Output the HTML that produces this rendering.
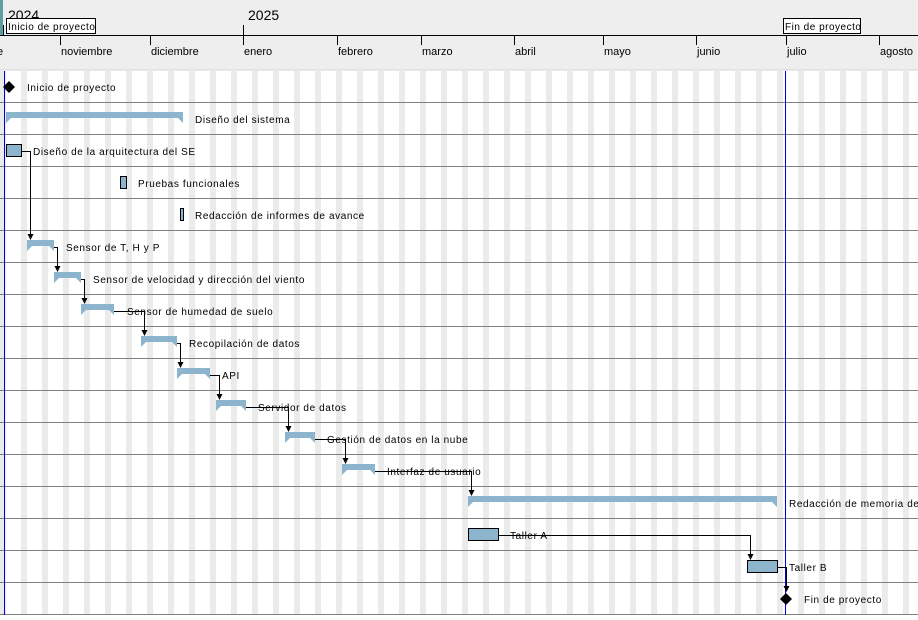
<!DOCTYPE html>
<html><head><meta charset="utf-8"><style>
html,body{margin:0;padding:0;background:#fff;}
svg text{font-family:"Liberation Sans",sans-serif;}
</style></head><body>
<svg width="918" height="615" xmlns="http://www.w3.org/2000/svg">
<defs>
<pattern id="st" x="0" y="0" width="21" height="10" patternUnits="userSpaceOnUse">
<rect x="0" y="0" width="6" height="10" fill="#ebebeb"/>
</pattern>
</defs>
<rect x="0" y="0" width="918" height="70" fill="#eeeeee"/>
<line x1="0" y1="70" x2="918" y2="70" stroke="#d4d4d4"/>
<rect x="0" y="71" width="918" height="544" fill="url(#st)"/>
<rect x="0" y="0" width="3" height="35" fill="#5f9ea0"/>
<g fill="#000" font-size="14">
<text x="8" y="20">2024</text><text x="248" y="20">2025</text>
</g>
<line x1="0" y1="35.5" x2="918" y2="35.5" stroke="#000"/>
<g stroke="#000">
<line x1="60.5" y1="35" x2="60.5" y2="45"/><line x1="150.5" y1="35" x2="150.5" y2="45"/>
<line x1="243.5" y1="25" x2="243.5" y2="45"/><line x1="337.5" y1="35" x2="337.5" y2="45"/>
<line x1="421.5" y1="35" x2="421.5" y2="45"/><line x1="514.5" y1="35" x2="514.5" y2="45"/>
<line x1="603.5" y1="35" x2="603.5" y2="45"/><line x1="696.5" y1="35" x2="696.5" y2="45"/>
<line x1="786.5" y1="35" x2="786.5" y2="45"/><line x1="879.5" y1="35" x2="879.5" y2="45"/>
<line x1="3.5" y1="25" x2="3.5" y2="35"/>
</g>
<g font-size="11" fill="#000">
<text x="-3" y="55">e</text><text x="61" y="55">noviembre</text><text x="151" y="55">diciembre</text>
<text x="244" y="55">enero</text><text x="338" y="55">febrero</text><text x="422" y="55">marzo</text>
<text x="515" y="55">abril</text><text x="604" y="55">mayo</text><text x="697" y="55">junio</text>
<text x="787" y="55">julio</text><text x="880" y="55">agosto</text>
</g>
<rect x="6.5" y="18.5" width="89" height="15" fill="#fff" stroke="#000"/>
<text x="8" y="30" font-size="10" letter-spacing="0.5">Inicio de proyecto</text>
<rect x="783.5" y="18.5" width="77" height="15" fill="#fff" stroke="#000"/>
<text x="785" y="30" font-size="10" letter-spacing="0.5">Fin de proyecto</text>
<g stroke="#808080">
<line x1="0" y1="102.5" x2="918" y2="102.5"/><line x1="0" y1="134.5" x2="918" y2="134.5"/>
<line x1="0" y1="166.5" x2="918" y2="166.5"/><line x1="0" y1="198.5" x2="918" y2="198.5"/>
<line x1="0" y1="230.5" x2="918" y2="230.5"/><line x1="0" y1="262.5" x2="918" y2="262.5"/>
<line x1="0" y1="294.5" x2="918" y2="294.5"/><line x1="0" y1="326.5" x2="918" y2="326.5"/>
<line x1="0" y1="358.5" x2="918" y2="358.5"/><line x1="0" y1="390.5" x2="918" y2="390.5"/>
<line x1="0" y1="422.5" x2="918" y2="422.5"/><line x1="0" y1="454.5" x2="918" y2="454.5"/>
<line x1="0" y1="486.5" x2="918" y2="486.5"/><line x1="0" y1="518.5" x2="918" y2="518.5"/>
<line x1="0" y1="550.5" x2="918" y2="550.5"/><line x1="0" y1="582.5" x2="918" y2="582.5"/>
<line x1="0" y1="614.5" x2="918" y2="614.5"/>
</g>
<line x1="4.5" y1="71" x2="4.5" y2="615" stroke="#0000dd"/>
<line x1="785.5" y1="71" x2="785.5" y2="615" stroke="#0000dd"/>
<!-- connectors -->
<g stroke="#000" fill="none">
<path d="M22,151.5 H30.5 V236"/>
<path d="M54,247.5 H57.5 V268"/>
<path d="M81,279.5 H84.5 V300"/>
<path d="M114,311.5 H144.5 V332"/>
<path d="M177,343.5 H180.5 V364"/>
<path d="M210,375.5 H219.5 V396"/>
<path d="M246,407.5 H288.5 V428"/>
<path d="M315,439.5 H345.5 V460"/>
<path d="M375,471.5 H471.5 V492"/>
<path d="M498,535.5 H750.5 V556"/>
<path d="M777,567.5 H786.5 V588"/>
</g>
<g fill="#000">
<path d="M27.5,234 h6 l-3,6 z"/>
<path d="M54.5,266 h6 l-3,6 z"/>
<path d="M81.5,298 h6 l-3,6 z"/>
<path d="M141.5,330 h6 l-3,6 z"/>
<path d="M177.5,362 h6 l-3,6 z"/>
<path d="M216.5,394 h6 l-3,6 z"/>
<path d="M285.5,426 h6 l-3,6 z"/>
<path d="M342.5,458 h6 l-3,6 z"/>
<path d="M468.5,490 h6 l-3,6 z"/>
<path d="M747.5,554 h6 l-3,6 z"/>
<path d="M783.5,586 h6 l-3,6 z"/>
</g>
<!-- summary bars -->
<g fill="#8cb4cc">
<path d="M6,112 H183 V123 L178,118 H11 L6,123 Z"/>
<path d="M27,240 H54 V251 L49,246 H32 L27,251 Z"/>
<path d="M54,272 H81 V283 L76,278 H59 L54,283 Z"/>
<path d="M81,304 H114 V315 L109,310 H86 L81,315 Z"/>
<path d="M141,336 H177 V347 L172,342 H146 L141,347 Z"/>
<path d="M177,368 H210 V379 L205,374 H182 L177,379 Z"/>
<path d="M216,400 H246 V411 L241,406 H221 L216,411 Z"/>
<path d="M285,432 H315 V443 L310,438 H290 L285,443 Z"/>
<path d="M342,464 H375 V475 L370,470 H347 L342,475 Z"/>
<path d="M468,496 H777 V507 L772,502 H473 L468,507 Z"/>
</g>
<g fill="#8cb4cc" stroke="#000">
<rect x="6.5" y="144.5" width="15" height="12"/>
<rect x="120.5" y="176.5" width="6" height="12"/>
<rect x="180.5" y="208.5" width="3" height="12"/>
<rect x="468.5" y="528.5" width="30" height="12"/>
<rect x="747.5" y="560.5" width="30" height="12"/>
</g>
<path d="M9,81 L15,87 L9,93 L3,87 Z" fill="#000"/>
<path d="M786,593 L792,599 L786,605 L780,599 Z" fill="#000"/>
<g font-size="10" letter-spacing="0.6" fill="#000">
<text x="27" y="91">Inicio de proyecto</text>
<text x="195" y="123">Diseño del sistema</text>
<text x="33" y="155">Diseño de la arquitectura del SE</text>
<text x="138" y="187">Pruebas funcionales</text>
<text x="195" y="219">Redacción de informes de avance</text>
<text x="66" y="251">Sensor de T, H y P</text>
<text x="93" y="283">Sensor de velocidad y dirección del viento</text>
<text x="127" y="315">Sensor de humedad de suelo</text>
<text x="189" y="347">Recopilación de datos</text>
<text x="222" y="379">API</text>
<text x="258" y="411">Servidor de datos</text>
<text x="327" y="443">Gestión de datos en la nube</text>
<text x="387" y="475">Interfaz de usuario</text>
<text x="789" y="507">Redacción de memoria de</text>
<text x="510" y="539">Taller A</text>
<text x="789" y="571">Taller B</text>
<text x="804" y="603">Fin de proyecto</text>
</g>
</svg>
</body></html>
